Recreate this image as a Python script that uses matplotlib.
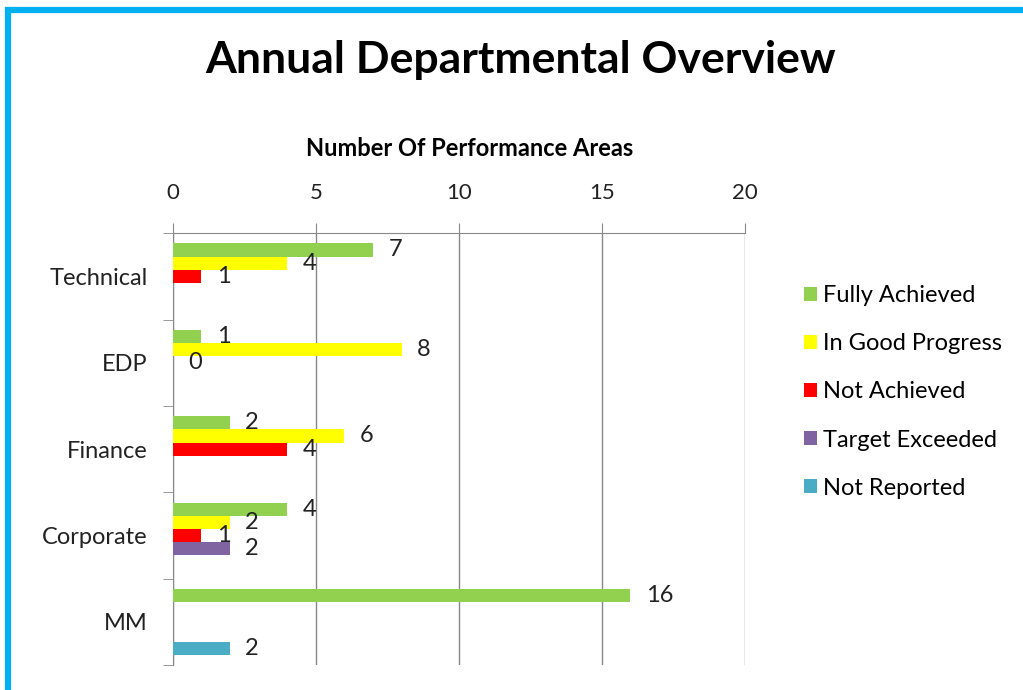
import numpy as np
import matplotlib.pyplot as plt
from matplotlib.patches import Rectangle

plt.rcParams['font.family'] = ['Lato', 'DejaVu Sans']

departments = ['Technical', 'EDP', 'Finance', 'Corporate', 'MM']
series = ['Fully Achieved', 'In Good Progress', 'Not Achieved', 'Target Exceeded', 'Not Reported']
colors = ['#92D050', '#FFFF00', '#FF0000', '#8064A2', '#4BACC6']

# nan = no bar and no label
fully_achieved = [7, 1, 2, 4, 16]
good_progress = [4, 8, 6, 2, np.nan]
not_achieved = [1, 0, 4, 1, np.nan]
target_exceeded = [np.nan, np.nan, np.nan, 2, np.nan]
not_reported = [np.nan, np.nan, np.nan, np.nan, 2]
values = [fully_achieved, good_progress, not_achieved, target_exceeded, not_reported]

fig = plt.figure(figsize=(10.23, 6.9), dpi=100)
ax = fig.add_axes([0.169, 0.036, 0.559, 0.626])

# blue frame around the chart
fig.patches.append(Rectangle((8 / 1023, -0.1), 1.2, 0.1 + 1 - 10 / 690, transform=fig.transFigure,
                             fill=False, edgecolor='#00B0F0', linewidth=4.5, zorder=0))

h = 0.153
y = np.arange(len(departments))
for j, (name, vals, c) in enumerate(zip(series, values, colors)):
    pos = y + (j - 2) * h
    ax.barh(pos, vals, height=h, color=c, label=name, zorder=3)
    for p, v in zip(pos, vals):
        if not np.isnan(v):
            ax.annotate(str(int(v)), (v, p), xytext=(11, 0), textcoords='offset points',
                        ha='left', va='center', fontsize=17, color='#222222')

ax.set_xlim(0, 20)
ax.set_ylim(len(departments) - 0.5, -0.5)
ax.xaxis.tick_top()
ax.set_xticks([0, 5, 10, 15, 20])
ax.tick_params(axis='x', direction='out', length=7, color='#888888', labelsize=16, pad=15,
               labelcolor='#222222')

ax.set_yticks(y)
ax.set_yticklabels(departments)
ax.set_yticks(np.arange(-0.5, len(departments)), minor=True)
ax.tick_params(axis='y', which='major', length=0, labelsize=17, pad=18, labelcolor='#222222')
ax.tick_params(axis='y', which='minor', direction='out', length=7, color='#888888')

ax.grid(axis='x', color='#888888', linewidth=1, zorder=0)
for s in ['right', 'bottom']:
    ax.spines[s].set_visible(False)
for s in ['top', 'left']:
    ax.spines[s].set_color('#888888')

fig.text(0.509, 0.913, 'Annual Departmental Overview', ha='center', va='center',
         fontsize=32, fontweight='bold')
fig.text(470 / 1023, 1 - 149 / 690, 'Number Of Performance Areas', ha='center', va='center',
         fontsize=17, fontweight='bold')

fig.legend(loc='center left', bbox_to_anchor=(0.765, 0.432), frameon=False, fontsize=17,
           handlelength=0.55, handleheight=0.55, handletextpad=0.25, labelspacing=1.15)

fig.savefig('out.png', dpi=100)
